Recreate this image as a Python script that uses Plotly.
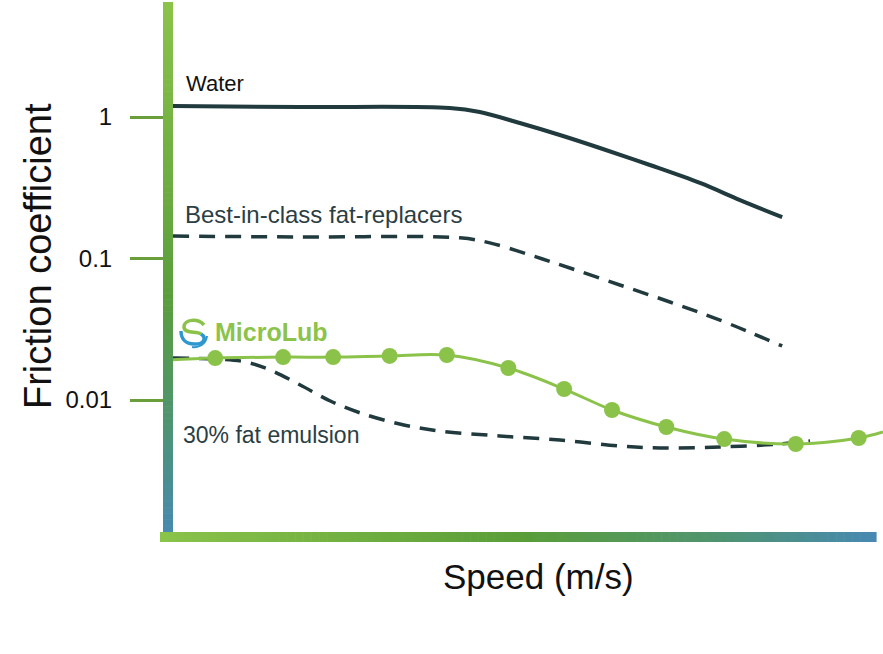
import plotly.graph_objects as go

# ---------------- data (speed in arbitrary units 0-10, friction coefficient) ----------------
water_x = [0.07, 1.85, 3.94, 4.36, 4.92, 5.48, 6.04, 6.74, 7.44, 8.00, 8.59]
water_y = [1.196, 1.177, 1.158, 1.085, 0.907, 0.746, 0.604, 0.458, 0.342, 0.259, 0.196]

best_x = [0.07, 1.85, 4.08, 4.50, 5.06, 5.62, 6.32, 7.02, 7.72, 8.59]
best_y = [0.144, 0.142, 0.140, 0.129, 0.106, 0.0857, 0.0650, 0.0493, 0.0367, 0.0241]

micro_x = [0.66, 1.61, 2.31, 3.10, 3.90, 4.76, 5.54, 6.21, 6.97, 7.78, 8.78, 9.66]
micro_y = [0.0198, 0.0201, 0.0201, 0.0205, 0.0208, 0.01683, 0.01196, 0.00850, 0.00645, 0.00530, 0.00489, 0.00539]
micro_line_x = [0.0] + micro_x + [10.0]
micro_line_y = [0.0192] + micro_y + [0.00594]

fat_x = [0.07, 0.66, 1.08, 1.43, 1.85, 2.27, 2.69, 3.24, 3.80, 4.64, 5.48, 6.32, 6.88, 7.72, 8.56, 8.98]
fat_y = [0.0198, 0.0195, 0.0186, 0.0163, 0.01276, 0.00984, 0.00810, 0.00677, 0.00604, 0.00557,
         0.00522, 0.00473, 0.00458, 0.00466, 0.00489, 0.00513]

y_tickvals = [0.01, 0.1, 1]
y_ticktext = ["0.01", "0.1", "1"]

# ---------------- styling ----------------
W, H = 883, 654
ML, MR, MT, MB = 168, 0, 0, 117
PW, PH = W - ML - MR, H - MT - MB
DARK = "#203a3e"
GREEN = "#8bc34a"
TICK_GREEN = "#6a9e3a"
FONT = "Liberation Sans, Arial, sans-serif"

fig = go.Figure()
fig.add_trace(go.Scatter(x=water_x, y=water_y, mode="lines", line=dict(color=DARK, width=4, shape="spline"),
                         hoverinfo="skip"))
fig.add_trace(go.Scatter(x=best_x, y=best_y, mode="lines",
                         line=dict(color=DARK, width=3.5, shape="spline", dash="16px,10px"), hoverinfo="skip"))
fig.add_trace(go.Scatter(x=fat_x, y=fat_y, mode="lines",
                         line=dict(color=DARK, width=3.5, shape="spline", dash="16px,10px"), hoverinfo="skip"))
fig.add_trace(go.Scatter(x=micro_line_x, y=micro_line_y, mode="lines",
                         line=dict(color=GREEN, width=3, shape="spline"), hoverinfo="skip"))
fig.add_trace(go.Scatter(x=micro_x, y=micro_y, mode="markers",
                         marker=dict(color=GREEN, size=16), hoverinfo="skip"))


def px2paper(px, py):
    return (px - ML) / PW, (H - MB - py) / PH


def hexrgb(h):
    h = h.lstrip("#")
    return tuple(int(h[i:i + 2], 16) for i in (0, 2, 4))


def grad(stops, t):
    for (t0, c0), (t1, c1) in zip(stops, stops[1:]):
        if t0 <= t <= t1:
            f = (t - t0) / (t1 - t0) if t1 > t0 else 0
            a, b = hexrgb(c0), hexrgb(c1)
            return "rgb(%d,%d,%d)" % tuple(round(a[i] + (b[i] - a[i]) * f) for i in range(3))
    return stops[-1][1]


v_stops = [(0, "#8bc34a"), (0.55, "#5a9e3c"), (0.78, "#4f9470"), (1, "#4789b2")]
h_stops = [(0, "#8bc34a"), (0.5, "#5a9e38"), (0.78, "#4f9470"), (1, "#4789b2")]

shapes = []
N = 90
# vertical gradient axis bar: x 163-173, y 2-537
y_top, y_bot = 2, 537
for i in range(N):
    p0 = y_top + (y_bot - y_top) * i / N
    p1 = y_top + (y_bot - y_top) * (i + 1) / N + 0.6
    x0, y0 = px2paper(163, p1)
    x1, y1 = px2paper(173, p0)
    shapes.append(dict(type="rect", xref="paper", yref="paper", x0=x0, x1=x1, y0=y0, y1=y1,
                       fillcolor=grad(v_stops, (i + 0.5) / N), line=dict(width=0), layer="above"))
# horizontal gradient axis bar: x 160-876, y 532-542
x_l, x_r = 160, 876
for i in range(N):
    p0 = x_l + (x_r - x_l) * i / N
    p1 = x_l + (x_r - x_l) * (i + 1) / N + 0.6
    x0, y0 = px2paper(p0, 542)
    x1, y1 = px2paper(p1, 532)
    shapes.append(dict(type="rect", xref="paper", yref="paper", x0=x0, x1=x1, y0=y0, y1=y1,
                       fillcolor=grad(h_stops, (i + 0.5) / N), line=dict(width=0), layer="above"))


def path(points_cmd):
    out = []
    for cmd, pts in points_cmd:
        coords = " ".join("%.5f,%.5f" % px2paper(*p) for p in pts)
        out.append(cmd + coords)
    return " ".join(out)


# MicroLub logo icon (stylised S)
shapes.append(dict(type="path", xref="paper", yref="paper",
                   path=path([("M", [(204, 325)]), ("C", [(198, 318), (184, 319), (184, 327)]),
                              ("C", [(184, 334), (196, 331), (201, 334)])]),
                   line=dict(color="#8bc34a", width=3.5)))
shapes.append(dict(type="path", xref="paper", yref="paper",
                   path=path([("M", [(201, 334)]), ("C", [(207, 338), (204, 345), (194, 344)]),
                              ("C", [(186, 344), (181, 339), (181, 331)])]),
                   line=dict(color="#2f97d0", width=3.5)))
shapes.append(dict(type="path", xref="paper", yref="paper",
                   path=path([("M", [(207, 336)]), ("C", [(206, 345), (198, 348), (192, 347)])]),
                   line=dict(color="#2f97d0", width=2)))


def label(text, px, py, size, color, anchor="left", angle=0):
    x, y = px2paper(px, py)
    return dict(text=text, x=x, y=y, xref="paper", yref="paper", xanchor=anchor, yanchor="middle",
                showarrow=False, textangle=angle, font=dict(family=FONT, size=size, color=color))


annotations = [
    label("Water", 184, 84, 22, "#111111"),
    label("Best-in-class fat-replacers", 183, 215, 24, "#2b3e44"),
    label("30% fat emulsion", 181, 435, 23, "#2b3e44"),
    label("<b>MicroLub</b>", 213, 332, 25, "#8cc34b"),
    label("Speed (m/s)", 538, 576, 35, "#111111", anchor="center"),
    label("Friction coefficient", 38, 256, 38, "#111111", anchor="center", angle=-90),
]

fig.update_layout(
    width=W, height=H,
    margin=dict(l=ML, r=MR, t=MT, b=MB, pad=0),
    paper_bgcolor="white", plot_bgcolor="white",
    showlegend=False,
    shapes=shapes, annotations=annotations,
    xaxis=dict(range=[0, 10], showgrid=False, zeroline=False, showline=False, showticklabels=False,
               ticks=""),
    yaxis=dict(type="log", range=[-2.968, 0.827], tickvals=y_tickvals, ticktext=y_ticktext,
               showgrid=False, zeroline=False, showline=False, ticks="outside", ticklen=37,
               tickwidth=3, tickcolor=TICK_GREEN, ticklabelstandoff=13,
               tickfont=dict(family=FONT, size=24, color="#111111")),
)

fig.write_html("out.html", config={"displayModeBar": False},
               post_script="document.body.style.margin='0';")
